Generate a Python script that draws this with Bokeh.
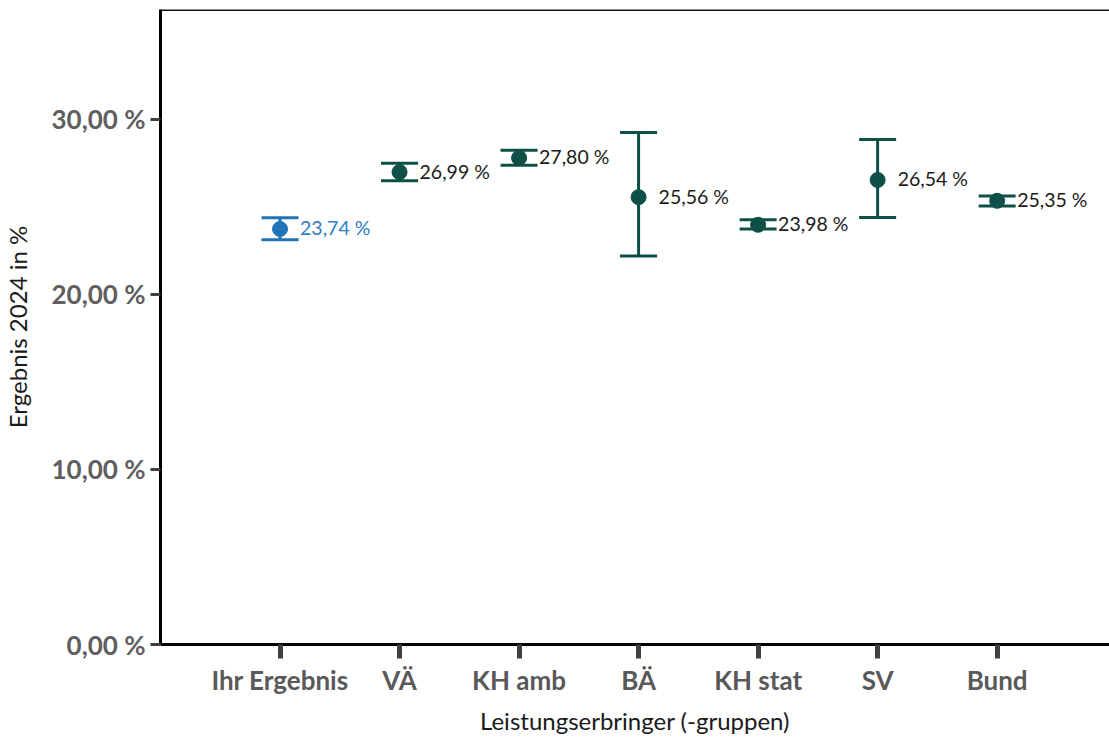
from bokeh.plotting import figure
from bokeh.models import (ColumnDataSource, Range1d, FixedTicker, Whisker, TeeHead, Span)
from bokeh.embed import file_html
from bokeh.resources import INLINE
from bokeh.core.properties import value

# Leistungserbringer-Gruppen und Ergebnisse 2024 (in %) mit Konfidenzintervallen
categories = ["Ihr Ergebnis", "VÄ", "KH amb", "BÄ", "KH stat", "SV", "Bund"]
results = [23.74, 26.99, 27.80, 25.56, 23.98, 26.54, 25.35]
ci_lower = [23.12, 26.50, 27.38, 22.20, 23.74, 24.40, 25.06]
ci_upper = [24.38, 27.50, 28.24, 29.25, 24.27, 28.85, 25.63]
result_labels = ["23,74 %", "26,99 %", "27,80 %", "25,56 %", "23,98 %", "26,54 %", "25,35 %"]
y_ticks = [0, 10, 20, 30]
y_tick_labels = ["0,00 %", "10,00 %", "20,00 %", "30,00 %"]

BLUE = "#1f74b8"
BLUE_TEXT = "#2f7dc1"
GREEN = "#0e4f47"
FONT = "Lato"

positions = list(range(1, len(categories) + 1))
colors = [BLUE] + [GREEN] * (len(categories) - 1)
text_colors = [BLUE_TEXT] + ["#1a1a1a"] * (len(categories) - 1)

src = ColumnDataSource(dict(
    x=positions, y=results, lower=ci_lower, upper=ci_upper,
    color=colors, label=result_labels, tcolor=text_colors,
))

p = figure(
    width=1109, height=737,
    x_range=Range1d(0, 7.94), y_range=Range1d(0, 36.28),
    output_backend="svg", toolbar_location=None,
    min_border_left=160, min_border_right=0, min_border_top=9, min_border_bottom=92,
)
p.outline_line_color = None
p.xgrid.visible = False
p.ygrid.visible = False
p.background_fill_color = "white"
p.border_fill_color = "white"

# Rahmenlinie oben
p.add_layout(Span(location=36.28, dimension="width", line_color="#111111", line_width=3))

# Konfidenzintervalle
whisk = Whisker(
    source=src, base="x", lower="lower", upper="upper", dimension="height",
    line_color="color", line_width=3,
    upper_head=TeeHead(size=37, line_width=3, line_color="color"),
    lower_head=TeeHead(size=37, line_width=3, line_color="color"),
)
p.add_layout(whisk)

# Punktschätzer
p.scatter("x", "y", source=src, size=15, fill_color="color", line_color="color")

# Wertbeschriftungen
p.text("x", "y", text="label", source=src, x_offset=20, y_offset=-1, text_align="left",
       text_baseline="middle", text_color="tcolor", text_font=value(FONT),
       text_font_size="19.5px")

# x-Achse
p.xaxis.ticker = FixedTicker(ticks=positions)
p.xaxis.major_label_overrides = {pos: name for pos, name in zip(positions, categories)}
p.xaxis.major_label_text_font = FONT
p.xaxis.major_label_text_font_size = "26px"
p.xaxis.major_label_text_font_style = "bold"
p.xaxis.major_label_text_color = "#595959"
p.xaxis.major_label_standoff = 5
p.xaxis.axis_label = "Leistungserbringer (-gruppen)"
p.xaxis.axis_label_text_font = FONT
p.xaxis.axis_label_text_font_size = "24px"
p.xaxis.axis_label_text_font_style = "normal"
p.xaxis.axis_label_text_color = "#1a1a1a"
p.xaxis.axis_label_standoff = 7
p.xaxis.axis_line_color = "black"
p.xaxis.axis_line_width = 3
p.xaxis.major_tick_line_color = "#404040"
p.xaxis.major_tick_line_width = 5
p.xaxis.major_tick_out = 14
p.xaxis.major_tick_in = 0
p.xaxis.minor_tick_line_color = None

# y-Achse
p.yaxis.ticker = FixedTicker(ticks=y_ticks)
p.yaxis.major_label_overrides = {t: lab for t, lab in zip(y_ticks, y_tick_labels)}
p.yaxis.major_label_text_font = FONT
p.yaxis.major_label_text_font_size = "26px"
p.yaxis.major_label_text_font_style = "bold"
p.yaxis.major_label_text_color = "#5f5f5f"
p.yaxis.major_label_standoff = 5
p.yaxis.axis_label = "Ergebnis 2024 in %"
p.yaxis.axis_label_text_font = FONT
p.yaxis.axis_label_text_font_size = "24px"
p.yaxis.axis_label_text_font_style = "normal"
p.yaxis.axis_label_text_color = "#1a1a1a"
p.yaxis.axis_label_standoff = 16
p.yaxis.axis_line_color = "black"
p.yaxis.axis_line_width = 3
p.yaxis.major_tick_line_color = "#404040"
p.yaxis.major_tick_line_width = 3
p.yaxis.major_tick_out = 10
p.yaxis.major_tick_in = 0
p.yaxis.minor_tick_line_color = None

open("out.html", "w").write(file_html(p, INLINE))
